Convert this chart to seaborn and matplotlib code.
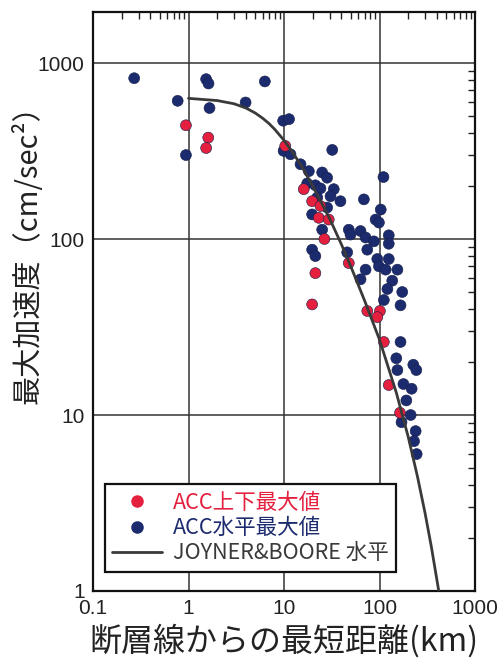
import numpy as np
import pandas as pd
import seaborn as sns
import matplotlib.pyplot as plt
from matplotlib.lines import Line2D
from matplotlib.ticker import FixedLocator, LogLocator, NullFormatter

# ACC horizontal maxima (blue)
horiz_dist = [0.27, 0.77, 0.94, 1.53, 1.62, 1.66, 3.96, 6.3, 9.8, 11.3,
              9.9, 11.7, 14.9, 18.2, 25.1, 28.3, 32, 17.5, 21.3, 24.1,
              33.2, 30.7, 22.3, 39, 28.3, 19.7, 68.6, 110, 103, 91,
              98.6, 25.1, 47.7, 63.3, 49.7, 71.5, 87.3, 125, 125, 74.5,
              19.7, 21.3, 45.9, 94.8, 125, 71.5, 98.6, 116, 154, 63.3,
              136, 121, 173, 111, 166, 166, 150, 154, 226, 243,
              178, 217, 191, 212, 170, 239, 230, 245]
horiz_acc = [820, 610, 300, 810, 765, 555, 597, 786, 470, 480,
             317, 303, 266, 243, 239, 223, 321, 207, 202, 194,
             192, 175, 172, 164, 151, 138, 168, 225, 147, 129,
             124, 113, 113, 111, 106, 102, 97, 105, 94, 87,
             87, 80, 84, 77, 77, 67, 70, 67, 67, 59,
             58, 52, 50, 45, 42, 26, 21, 18, 19.3, 18,
             15, 14.1, 12.1, 10.0, 9.1, 8.1, 7.1, 6.0]

# ACC vertical maxima (red)
vert_dist = [0.94, 1.61, 1.53, 10.3, 16.1, 19.7, 24.1, 23.1, 29.4, 26.5,
             47.7, 21.3, 19.7, 74.5, 101, 94.8, 111, 125, 164]
vert_acc = [443, 377, 329, 338, 192, 164, 154, 132, 129, 100,
            73, 64, 42.5, 39, 39, 36, 26, 14.8, 10.3]

# Joyner & Boore horizontal curve
jb_dist = [1, 2, 3, 4, 5, 6, 7, 8, 10, 12, 15, 20, 30, 40, 50, 70,
           100, 150, 200, 250, 300, 350, 420]
jb_acc = [630, 612, 587, 555, 520, 485, 452, 420, 364, 317, 264, 200,
          131, 93, 70, 44.5, 26.8, 13.4, 7.5, 4.46, 2.77, 1.77, 0.98]

labels = ['ACC上下最大値', 'ACC水平最大値', 'JOYNER&BOORE 水平']
red = '#e4203e'
navy = '#1c2b6e'
gray = '#3a3a3a'

pts = pd.DataFrame({
    'dist': horiz_dist + vert_dist,
    'acc': horiz_acc + vert_acc,
    'kind': ['h'] * len(horiz_dist) + ['v'] * len(vert_dist),
})
curve = pd.DataFrame({'dist': jb_dist, 'acc': jb_acc})

sns.set_style('white')
plt.rcParams['font.family'] = ['Liberation Sans', 'Noto Sans CJK JP']
cjk = ['Noto Sans CJK JP', 'DejaVu Sans']

fig = plt.figure(figsize=(5.01, 6.58), dpi=100)
ax = fig.add_axes([93 / 501, 1 - 591 / 658, 382 / 501, 579 / 658])
ax.set_xscale('log')
ax.set_yscale('log')

sns.scatterplot(data=pts, x='dist', y='acc', hue='kind',
                palette={'h': navy, 'v': red}, s=62,
                edgecolor='#141e4a', linewidth=0.4,
                legend=False, ax=ax, zorder=3)
sns.lineplot(data=curve, x='dist', y='acc', color=gray, lw=2.0,
             ax=ax, zorder=4)

ax.set_xlim(0.1, 1000)
ax.set_ylim(1, 1950)

ax.xaxis.set_major_locator(FixedLocator([0.1, 1, 10, 100, 1000]))
ax.set_xticklabels(['0.1', '1', '10', '100', '1000'])
ax.yaxis.set_major_locator(FixedLocator([1, 10, 100, 1000]))
ax.set_yticklabels(['1', '10', '100', '1000'])
ax.xaxis.set_minor_locator(LogLocator(base=10, subs=np.arange(2, 10), numticks=20))
ax.yaxis.set_minor_locator(LogLocator(base=10, subs=np.arange(2, 10), numticks=20))
ax.xaxis.set_minor_formatter(NullFormatter())
ax.yaxis.set_minor_formatter(NullFormatter())

ax.grid(True, which='major', color='#333333', lw=1.1, zorder=1)
ax.tick_params(which='both', direction='in', top=True, right=True,
               colors='#222222', labelsize=15)
ax.tick_params(which='major', length=0, pad=6)
ax.tick_params(which='minor', length=5, width=1.0)
for sp in ax.spines.values():
    sp.set_color('#111111')
    sp.set_linewidth(1.6)

ax.set_xlabel('断層線からの最短距離(km)', fontsize=23, family=cjk,
              color='#222222', labelpad=4)
ax.set_ylabel('最大加速度（cm/sec²）', fontsize=21, family=cjk,
              color='#222222')
ax.yaxis.set_label_coords(-0.128, 0.593)

handles = [
    Line2D([], [], ls='none', marker='o', ms=8, color=red, mec=red),
    Line2D([], [], ls='none', marker='o', ms=8, color=navy, mec=navy),
    Line2D([], [], color=gray, lw=2.0),
]
leg = ax.legend(handles, labels, loc='lower left',
                bbox_to_anchor=(0.031, 0.033), borderaxespad=0,
                prop={'family': cjk, 'size': 15.5}, fancybox=False,
                edgecolor='#111111', framealpha=1, handlelength=2.3,
                handletextpad=0.5, labelspacing=0.15, borderpad=0.35)
leg.get_frame().set_linewidth(1.6)
for txt, c in zip(leg.get_texts(), [red, navy, gray]):
    txt.set_color(c)

fig.savefig('out.png', dpi=100)
